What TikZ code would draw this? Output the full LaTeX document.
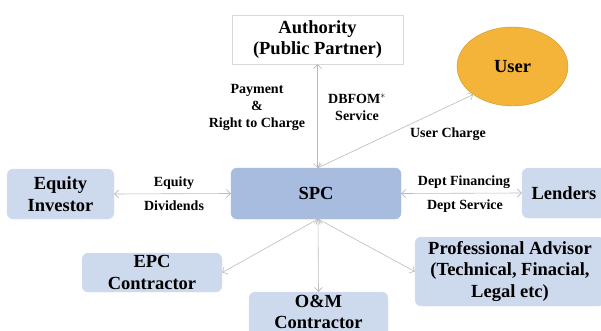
\documentclass[tikz,border=0pt]{standalone}
\usepackage{fontspec}
\setmainfont{Liberation Serif}
\usetikzlibrary{shapes.geometric,arrows.meta}
\definecolor{boxblue}{HTML}{CDD9ED}
\definecolor{spcblue}{HTML}{A7BCDE}
\definecolor{userfill}{HTML}{F4B43A}
\definecolor{userline}{HTML}{C9962A}
\definecolor{linkgray}{HTML}{BBBBBB}

\begin{document}
\begin{tikzpicture}[x=1pt, y=-1pt,
    party/.style={rectangle, rounded corners=6pt, fill=boxblue, draw=boxblue!80!white,
      align=center, font=\fontsize{18.5}{21.5}\selectfont\bfseries, inner sep=0pt},
    flow/.style={align=center, font=\fontsize{14}{17}\selectfont\bfseries, inner sep=0pt},
    link/.style={draw=linkgray, line width=0.6pt,
      {Straight Barb[length=4pt,width=8pt]}-{Straight Barb[length=4pt,width=8pt]}}]
  \useasboundingbox (0,0) rectangle (601,331);
  \node[party, fill=white, draw=black!15, rounded corners=0pt,
    minimum width=171pt, minimum height=49pt] (authority) at (317.5, 39.5)
    {Authority\\(Public Partner)};
  \node[ellipse, fill=userfill, draw=userline, minimum width=111pt, minimum height=79pt,
    inner sep=0pt, font=\fontsize{18.5}{21.5}\selectfont\bfseries] (user) at (512.5, 66.5) {User};
  \node[party, fill=spcblue, draw=spcblue, minimum width=170pt, minimum height=51pt] (spc)
    at (316, 193.5) {SPC};
  \node[party, minimum width=107pt, minimum height=50pt] (equity) at (60.5, 194) {Equity\\Investor};
  \node[party, minimum width=84pt, minimum height=50pt] (lenders) at (564, 193) {Lenders};
  \node[party, minimum width=140pt, minimum height=39pt] (epc) at (152, 272.5) {EPC\\Contractor};
  \node[party, minimum width=139pt, minimum height=48pt, text depth=8pt] (om) at (318.5, 316) {O\&M\\Contractor};
  \node[party, minimum width=190pt, minimum height=69pt] (prof) at (510, 271.5)
    {Professional Advisor\\(Technical, Finacial,\\Legal etc)};

  \coordinate (top) at (317.5, 168);
  \coordinate (hub) at (318, 219);

  \draw[link] (authority.south) -- (top);
  \draw[link] (top) -- (user.south west);
  \draw[link] (equity.east) -- (spc.west);
  \draw[link] (spc.east) -- (lenders.west);
  \draw[link] (hub) -- (epc.east);
  \draw[link] (hub) -- (om.north);
  \draw[link] (hub) -- (prof.west);

  \node[flow] (pay) at (257, 107) {Payment\\\&\\Right to Charge};
  \node[flow] (dbfom) at (357, 107) {DBFOM$^{*}$\\Service};
  \node[flow] (charge) at (448, 134) {User Charge};
  \node[flow] (eq) at (174, 183) {Equity};
  \node[flow] (div) at (174, 206) {Dividends};
  \node[flow] (fin) at (464, 182) {Dept Financing};
  \node[flow] (serv) at (465, 206) {Dept Service};
\end{tikzpicture}
\end{document}
